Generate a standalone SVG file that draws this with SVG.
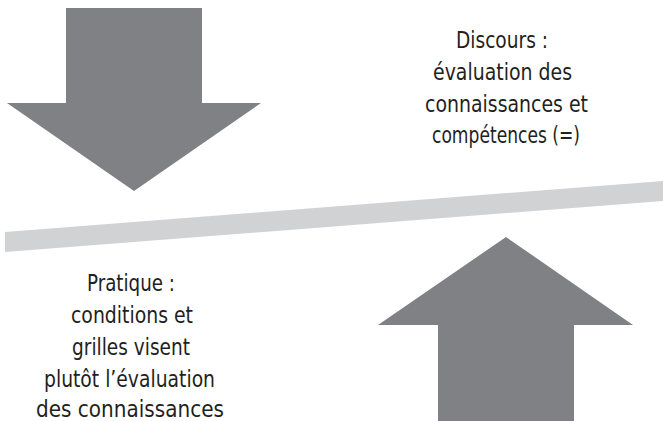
<svg xmlns="http://www.w3.org/2000/svg" width="663" height="421" viewBox="0 0 663 421">
<style>
.arrow{fill:#808184;}
.bar{fill:#d1d2d4;}
.t{font-family:"Liberation Sans Narrow","DejaVu Sans Condensed","Liberation Sans",sans-serif;font-size:23px;fill:#231f20;}
</style>
<rect width="663" height="421" fill="#ffffff"/>
<g id="connectors">
<polygon id="balance-bar" class="bar" points="5,232 663,181 663,201 5,252"/>
</g>
<g id="arrow-down">
<polygon class="arrow" points="66,8 202,8 202,103 261,103 134,191 7,103 66,103"/>
</g>
<g id="arrow-up">
<polygon class="arrow" points="506,237 633,325 574,325 574,421 438,421 438,325 378,325"/>
</g>
<g id="discours">
<text class="t" x="456" y="48" textLength="92" lengthAdjust="spacingAndGlyphs">Discours :</text>
<text class="t" x="433" y="80" textLength="139" lengthAdjust="spacingAndGlyphs">évaluation des</text>
<text class="t" x="425" y="112" textLength="163" lengthAdjust="spacingAndGlyphs">connaissances et</text>
<text class="t" x="432" y="143" textLength="148" lengthAdjust="spacingAndGlyphs">compétences (=)</text>
</g>
<g id="pratique">
<text class="t" x="87" y="291" textLength="88" lengthAdjust="spacingAndGlyphs">Pratique :</text>
<text class="t" x="71" y="323" textLength="122" lengthAdjust="spacingAndGlyphs">conditions et</text>
<text class="t" x="72" y="355" textLength="118" lengthAdjust="spacingAndGlyphs">grilles visent</text>
<text class="t" x="44" y="387" textLength="171" lengthAdjust="spacingAndGlyphs">plutôt l’évaluation</text>
<text class="t" x="36" y="417" textLength="188" lengthAdjust="spacingAndGlyphs">des connaissances</text>
</g>
</svg>
